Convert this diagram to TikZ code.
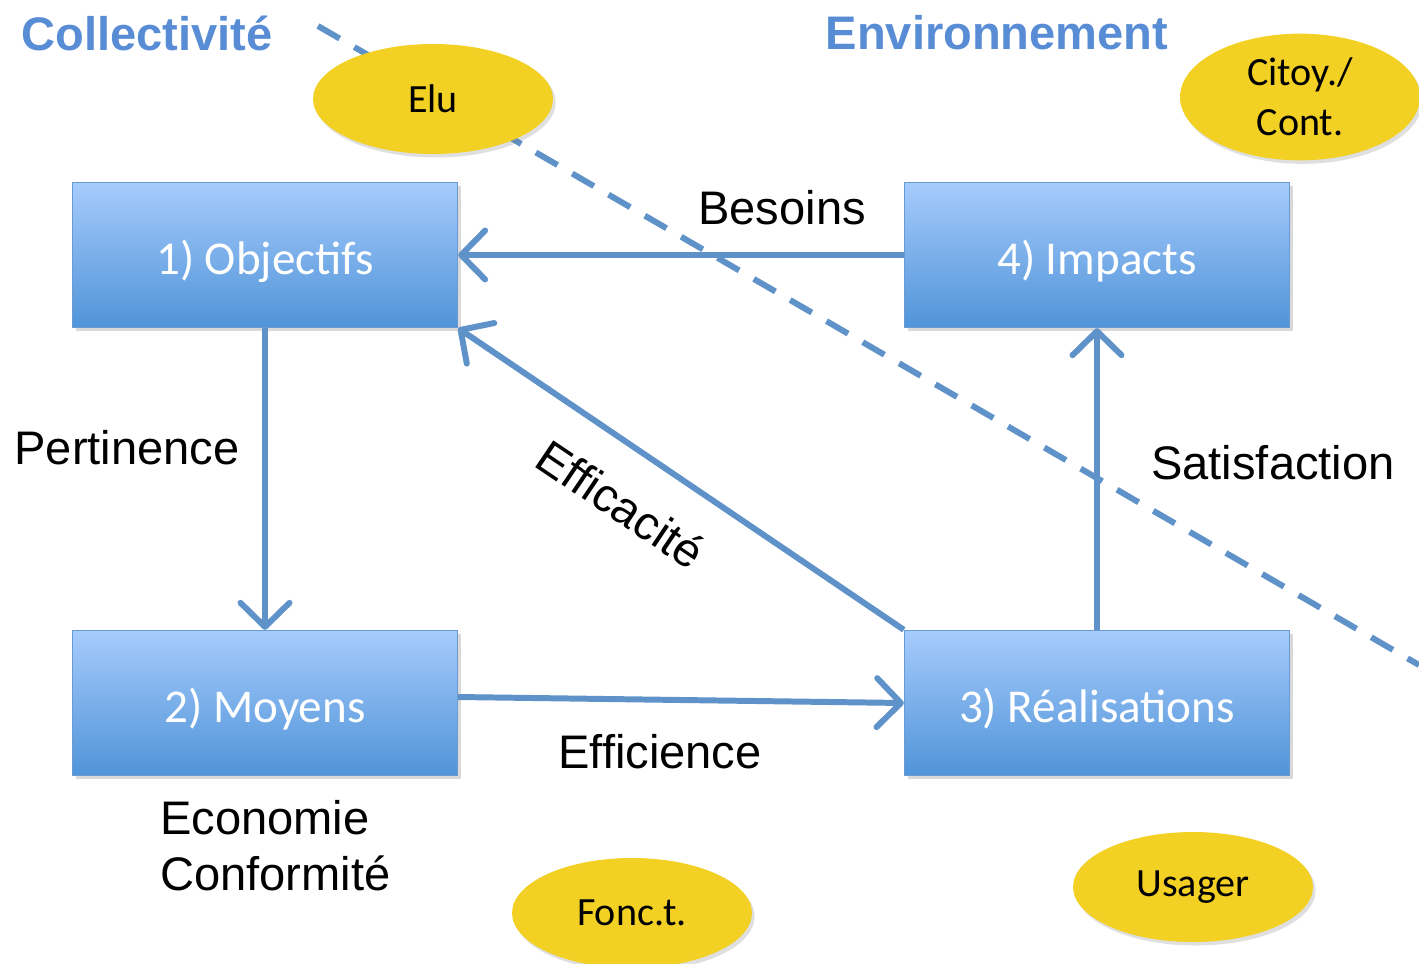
\documentclass[tikz,border=0pt]{standalone}
\usepackage{fontspec}
\setmainfont{Liberation Sans}
\newfontfamily\boxfont{Carlito}
\usetikzlibrary{positioning, shapes.geometric, shadows, arrows.meta}

\definecolor{linkblue}{RGB}{94,146,200}
\definecolor{titleblue}{RGB}{88,141,214}
\definecolor{boxtop}{RGB}{166,203,252}
\definecolor{boxbottom}{RGB}{80,148,216}
\definecolor{boxedge}{RGB}{104,154,212}
\definecolor{actoryellow}{RGB}{242,208,36}
\newcommand{\bigtext}{\fontsize{26.8}{32}\selectfont}
\newcommand{\smalltext}{\fontsize{22.8}{28.3}\selectfont}

\begin{document}
\begin{tikzpicture}[
        x = 0.02cm,
        y = -0.02cm,
        stage/.style = {rectangle, draw = boxedge, line width = 0.8pt, top color = boxtop, bottom color = boxbottom, minimum width = 7.7cm, minimum height = 2.9cm, text height = 22.6pt, text depth = 0pt, text = white, font = \boxfont\bigtext, drop shadow = {shadow xshift = 2pt, shadow yshift = -2pt, opacity = 0.3}},
        actor/.style = {ellipse, fill = actoryellow, minimum width = 4.8cm, minimum height = 2.2cm, align = center, font = \boxfont\smalltext, drop shadow = {shadow xshift = 1.5pt, shadow yshift = -2pt, opacity = 0.25}},
        link/.style = {draw = linkblue, line width = 3.4pt, -{Straight Barb[length=0.48cm, width=0.98cm, round]}},
        linklabel/.style = {font = \bigtext},
        zonetitle/.style = {font = \bfseries\bigtext, text = titleblue},
        limit/.style = {draw = linkblue, line width = 3.4pt, dash pattern = on 0.5cm off 0.34cm}
      ]
      \useasboundingbox (0,0) rectangle (1419,963);

      % the four stages
      \node[stage] (obj) at (265,255) {1) Objectifs};
      \node[stage] (imp) at (1097,255) {4) Impacts};
      \node[stage] (moy) at (265,703) {2) Moyens};
      \node[stage] (rea) at (1097,703) {3) Réalisations};

      \draw[link] (imp.west) -- (obj.east);
      \draw[link] (obj.south) -- (moy.north);
      \draw[link] ([yshift=0.12cm]moy.east) -- (rea.west);
      \draw[link] (rea.north west) -- (obj.south east);
      \draw[link] (rea.north) -- (imp.south);

      \node[linklabel] (besoins) at (782,208) {Besoins};
      \node[linklabel] (pertinence) at (127,448) {Pertinence};
      \node[linklabel] (satisfaction) at (1273,463) {Satisfaction};
      \node[linklabel, rotate = -34] (efficacite) at (621,504) {Efficacité};
      \node[linklabel] (efficience) at (660,752) {Efficience};
      \node[linklabel, anchor = west, align = left] (economie) at (154,846) {Economie\\Conformité};

      % frontier
      \coordinate (cutstart) at (318,26);
      \coordinate (cutend) at (1419,665);
      \draw[limit] (cutstart) -- (cutend);

      \node[zonetitle] (collectivite) at (147,33) {Collectivité};
      \node[zonetitle] (environnement) at (997,33) {Environnement};

      % actors
      \node[actor] (elu) at (433,99) {Elu};
      \node[actor] (citoyen) at (1300,97) {Citoy./\\Cont.};
      \node[actor] (fonct) at (632,913) {Fonc.t.};
      \node[actor] (usager) at (1193,887) {Usager};
    \end{tikzpicture}
\end{document}
